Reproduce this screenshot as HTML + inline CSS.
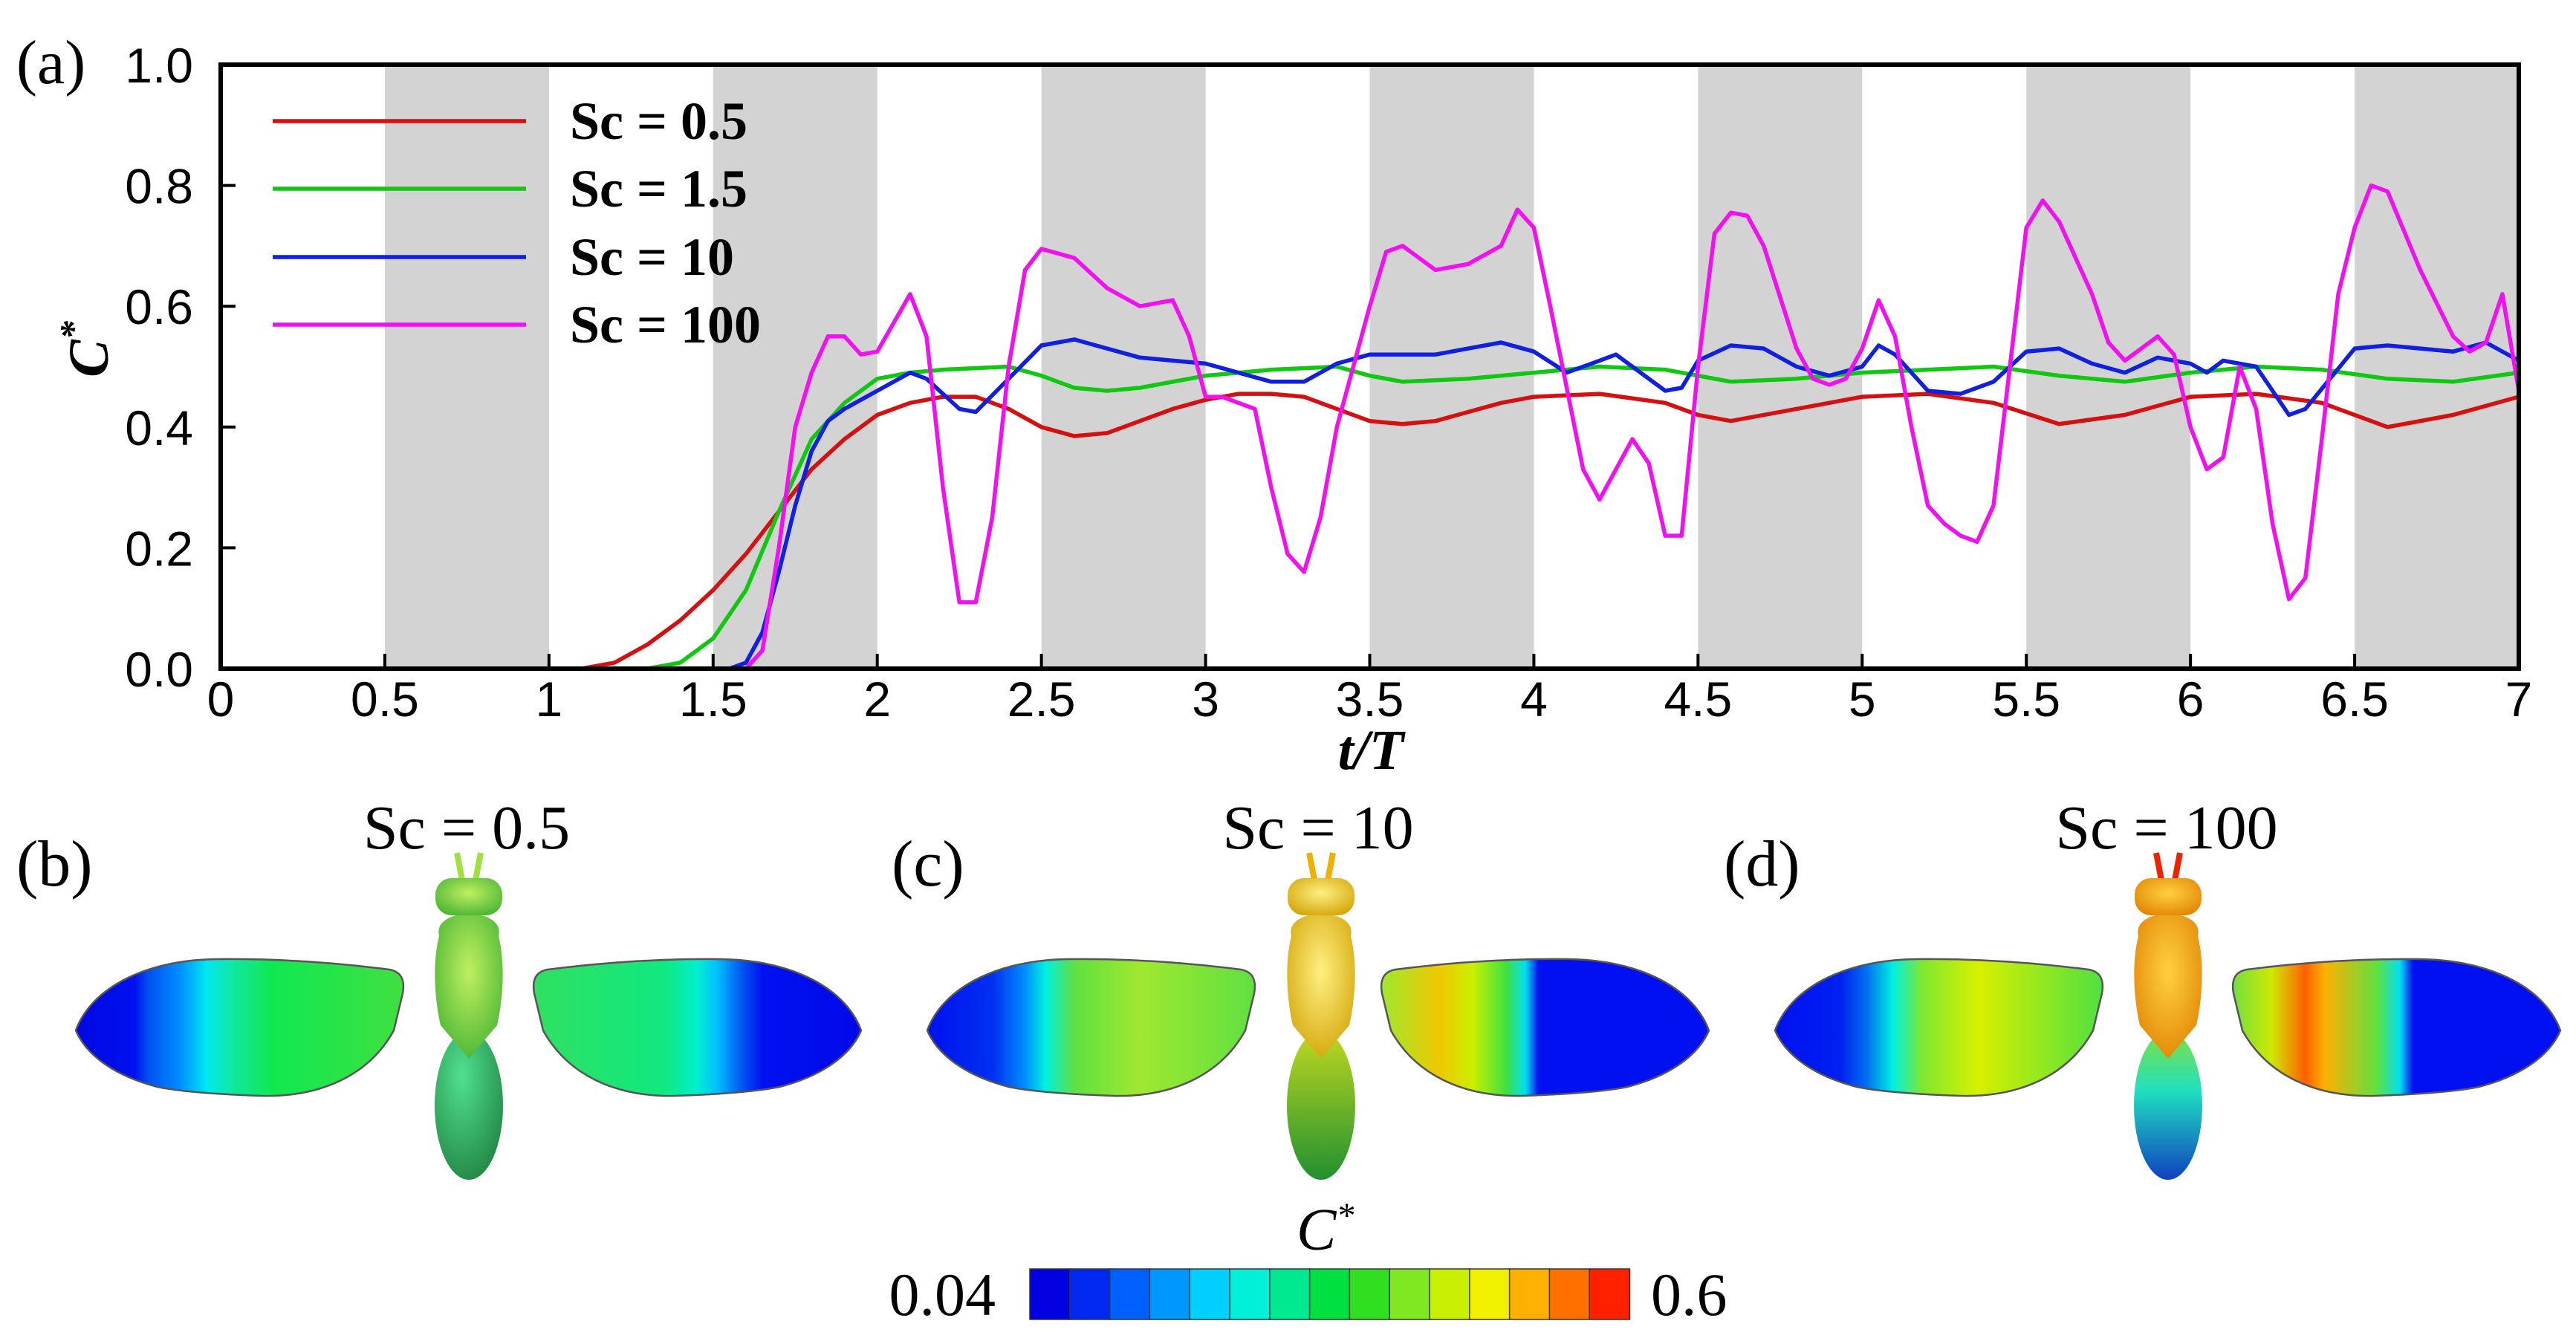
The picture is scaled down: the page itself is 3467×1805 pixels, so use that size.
<!DOCTYPE html>
<html><head><meta charset="utf-8">
<style>
html,body{margin:0;padding:0;background:#fff;}
svg{display:block;}
</style></head>
<body>
<svg id="fig" width="3467" height="1805" viewBox="0 0 3467 1805" xmlns="http://www.w3.org/2000/svg">
<defs>
 <linearGradient id="gWb" x1="0" y1="0" x2="1" y2="0">
  <stop offset="0" stop-color="#0008e0"/><stop offset="0.18" stop-color="#0010f0"/>
  <stop offset="0.22" stop-color="#0050f0"/><stop offset="0.32" stop-color="#0090ff"/>
  <stop offset="0.4" stop-color="#00e8f0"/><stop offset="0.48" stop-color="#10e8a0"/>
  <stop offset="0.6" stop-color="#10e850"/><stop offset="1" stop-color="#40e040"/>
 </linearGradient>
 <linearGradient id="gWbR" x1="0" y1="0" x2="1" y2="0">
  <stop offset="0" stop-color="#0008e8"/><stop offset="0.3" stop-color="#0010f0"/>
  <stop offset="0.36" stop-color="#0050f0"/><stop offset="0.44" stop-color="#00c0ff"/>
  <stop offset="0.5" stop-color="#00f0d0"/><stop offset="0.6" stop-color="#10e880"/>
  <stop offset="1" stop-color="#30e060"/>
 </linearGradient>
 <linearGradient id="gWc" x1="0" y1="0" x2="1" y2="0">
  <stop offset="0" stop-color="#0010f0"/><stop offset="0.2" stop-color="#0030f0"/>
  <stop offset="0.3" stop-color="#0090ff"/><stop offset="0.36" stop-color="#00f0e0"/>
  <stop offset="0.45" stop-color="#60e040"/><stop offset="0.65" stop-color="#a0e830"/>
  <stop offset="1" stop-color="#60e040"/>
 </linearGradient>
 <linearGradient id="gWcR" x1="0" y1="0" x2="1" y2="0">
  <stop offset="0" stop-color="#0010f0"/><stop offset="0.52" stop-color="#0010f0"/>
  <stop offset="0.56" stop-color="#00e0f0"/><stop offset="0.62" stop-color="#40e040"/>
  <stop offset="0.72" stop-color="#c8f000"/><stop offset="0.82" stop-color="#f0c800"/>
  <stop offset="1" stop-color="#a0e830"/>
 </linearGradient>
 <linearGradient id="gWd" x1="0" y1="0" x2="1" y2="0">
  <stop offset="0" stop-color="#0010f0"/><stop offset="0.2" stop-color="#0020f0"/>
  <stop offset="0.28" stop-color="#0070f0"/><stop offset="0.36" stop-color="#00f0e0"/>
  <stop offset="0.45" stop-color="#80e830"/><stop offset="0.62" stop-color="#d8f000"/>
  <stop offset="1" stop-color="#50e040"/>
 </linearGradient>
 <linearGradient id="gWdR" x1="0" y1="0" x2="1" y2="0">
  <stop offset="0" stop-color="#0010f0"/><stop offset="0.45" stop-color="#0010f0"/>
  <stop offset="0.49" stop-color="#00e0f0"/><stop offset="0.56" stop-color="#60e040"/>
  <stop offset="0.72" stop-color="#ffb000"/><stop offset="0.78" stop-color="#ff6000"/>
  <stop offset="0.88" stop-color="#d0e800"/><stop offset="1" stop-color="#70e040"/>
 </linearGradient>
 <radialGradient id="bodyB" cx="0.5" cy="0.4" r="0.7"><stop offset="0" stop-color="#c0f060"/><stop offset="1" stop-color="#40b030"/></radialGradient>
 <radialGradient id="bodyBab" cx="0.4" cy="0.3" r="0.8"><stop offset="0" stop-color="#50e090"/><stop offset="1" stop-color="#208040"/></radialGradient>
 <radialGradient id="bodyC" cx="0.5" cy="0.4" r="0.7"><stop offset="0" stop-color="#fff080"/><stop offset="1" stop-color="#d0a000"/></radialGradient>
 <linearGradient id="bodyCab" x1="0" y1="0" x2="0" y2="1"><stop offset="0" stop-color="#c0d820"/><stop offset="1" stop-color="#209030"/></linearGradient>
 <radialGradient id="bodyD" cx="0.5" cy="0.4" r="0.7"><stop offset="0" stop-color="#ffd040"/><stop offset="1" stop-color="#e08000"/></radialGradient>
 <linearGradient id="bodyDab" x1="0" y1="0" x2="0" y2="1"><stop offset="0" stop-color="#80e040"/><stop offset="0.4" stop-color="#20e0c0"/><stop offset="1" stop-color="#1040c0"/></linearGradient>
</defs>
<g id="chart"></g>
<g id="insects"></g>
</svg>
<script>
// ---------- data ----------
const xTicks = [0,0.5,1,1.5,2,2.5,3,3.5,4,4.5,5,5.5,6,6.5,7];
const xTickLabels = ["0","0.5","1","1.5","2","2.5","3","3.5","4","4.5","5","5.5","6","6.5","7"];
const yTicks = [0,0.2,0.4,0.6,0.8,1.0];
const yTickLabels = ["0.0","0.2","0.4","0.6","0.8","1.0"];
const shadedStarts = [0.5,1.5,2.5,3.5,4.5,5.5,6.5];
const seriesNames = ["Sc = 0.5","Sc = 1.5","Sc = 10","Sc = 100"];
const seriesColors = ["#d41010","#10c810","#1020e0","#f010f0"];

const tRed = [1.1,1.2,1.3,1.4,1.5,1.6,1.7,1.8,1.9,2.0,2.1,2.2,2.3,2.4,2.5,2.6,2.7,2.8,2.9,3.0,3.1,3.2,3.3,3.4,3.5,3.6,3.7,3.8,3.9,4.0,4.2,4.4,4.5,4.6,4.8,5.0,5.2,5.4,5.6,5.8,6.0,6.2,6.4,6.6,6.8,7.0];
const cRed = [0,0.01,0.04,0.08,0.13,0.19,0.26,0.33,0.38,0.42,0.44,0.45,0.45,0.43,0.40,0.385,0.39,0.41,0.43,0.445,0.455,0.455,0.45,0.43,0.41,0.405,0.41,0.425,0.44,0.45,0.455,0.44,0.42,0.41,0.43,0.45,0.455,0.44,0.405,0.42,0.45,0.455,0.44,0.40,0.42,0.45];

const tGreen = [1.3,1.4,1.5,1.6,1.7,1.8,1.9,2.0,2.1,2.2,2.4,2.5,2.6,2.7,2.8,3.0,3.2,3.4,3.5,3.6,3.8,4.0,4.2,4.4,4.6,4.8,5.0,5.2,5.4,5.6,5.8,6.0,6.2,6.4,6.6,6.8,7.0];
const cGreen = [0,0.01,0.05,0.13,0.26,0.38,0.44,0.48,0.49,0.495,0.50,0.485,0.465,0.46,0.465,0.485,0.495,0.50,0.485,0.475,0.48,0.49,0.50,0.495,0.475,0.48,0.49,0.495,0.50,0.485,0.475,0.49,0.50,0.495,0.48,0.475,0.49];

const tBlue = [1.55,1.6,1.65,1.7,1.75,1.8,1.85,1.9,2.0,2.1,2.15,2.25,2.3,2.4,2.5,2.6,2.7,2.8,2.9,3.0,3.1,3.2,3.3,3.4,3.5,3.6,3.7,3.8,3.9,4.0,4.1,4.2,4.25,4.3,4.4,4.45,4.5,4.6,4.7,4.8,4.9,5.0,5.05,5.1,5.2,5.3,5.4,5.5,5.6,5.7,5.8,5.9,6.0,6.05,6.1,6.2,6.3,6.35,6.5,6.6,6.8,6.9,7.0];
const cBlue = [0,0.01,0.06,0.16,0.27,0.36,0.41,0.43,0.46,0.49,0.48,0.43,0.425,0.48,0.535,0.545,0.53,0.515,0.51,0.505,0.49,0.475,0.475,0.505,0.52,0.52,0.52,0.53,0.54,0.525,0.49,0.51,0.52,0.50,0.46,0.465,0.51,0.535,0.53,0.50,0.485,0.50,0.535,0.52,0.46,0.455,0.475,0.525,0.53,0.505,0.49,0.515,0.505,0.49,0.51,0.50,0.42,0.43,0.53,0.535,0.525,0.54,0.51];

const tMag = [1.6,1.65,1.7,1.75,1.8,1.85,1.9,1.95,2.0,2.1,2.15,2.2,2.25,2.3,2.35,2.4,2.45,2.5,2.6,2.7,2.8,2.9,2.95,3.0,3.05,3.15,3.2,3.25,3.3,3.35,3.4,3.5,3.55,3.6,3.7,3.8,3.9,3.95,4.0,4.05,4.15,4.2,4.3,4.35,4.4,4.45,4.5,4.55,4.6,4.65,4.7,4.8,4.85,4.9,4.95,5.0,5.05,5.1,5.15,5.2,5.25,5.3,5.35,5.4,5.45,5.5,5.55,5.6,5.7,5.75,5.8,5.85,5.9,5.95,6.0,6.05,6.1,6.15,6.2,6.25,6.3,6.35,6.4,6.45,6.5,6.55,6.6,6.7,6.8,6.85,6.9,6.95,7.0];
const cMag = [0,0.03,0.2,0.4,0.49,0.55,0.55,0.52,0.525,0.62,0.55,0.3,0.11,0.11,0.25,0.50,0.66,0.695,0.68,0.63,0.60,0.61,0.55,0.45,0.45,0.43,0.30,0.19,0.16,0.25,0.40,0.60,0.69,0.70,0.66,0.67,0.70,0.76,0.73,0.60,0.33,0.28,0.38,0.34,0.22,0.22,0.50,0.72,0.755,0.75,0.70,0.53,0.48,0.47,0.48,0.53,0.61,0.55,0.40,0.27,0.24,0.22,0.21,0.27,0.50,0.73,0.775,0.74,0.62,0.54,0.51,0.53,0.55,0.52,0.40,0.33,0.35,0.50,0.43,0.24,0.115,0.15,0.38,0.62,0.73,0.80,0.79,0.66,0.55,0.525,0.54,0.62,0.46];

const colorbarColors = ["#0000e0","#0028f0","#0060ff","#0098ff","#00d0ff","#00f0d8","#00e890","#00e040","#30e020","#80e820","#c8f000","#f0f000","#ffb000","#ff7000","#ff2000"];
const colorbarLabels = ["0.04","0.6"];

// ---------- helpers ----------
const NS = "http://www.w3.org/2000/svg";
function mk(tag, attrs, parent, text){
  const e = document.createElementNS(NS, tag);
  for (const k in attrs) e.setAttribute(k, attrs[k]);
  if (text !== undefined) e.textContent = text;
  parent.appendChild(e);
  return e;
}
const X0 = 297, X1 = 3390, Y0 = 900, Y1 = 87;
const xScale = t => X0 + (t/7)*(X1-X0);
const yScale = c => Y0 - c*(Y0-Y1);

const chart = document.getElementById("chart");

shadedStarts.forEach(s => {
  const r = mk("rect", {x:xScale(s), y:Y1, width:xScale(s+0.5)-xScale(s), height:Y0-Y1, fill:"#d3d3d3"}, chart);
  
  
});

const allT = [tRed,tGreen,tBlue,tMag], allC = [cRed,cGreen,cBlue,cMag];
allT.forEach((ts,i) => {
  const d = ts.map((t,j) => (j?"L":"M")+xScale(t).toFixed(1)+","+yScale(allC[i][j]).toFixed(1)).join(" ");
  const p = mk("path", {d:d, fill:"none", stroke:seriesColors[i], "stroke-width":5.5, "stroke-linejoin":"round"}, chart);
  
  
});

const frame = mk("rect", {x:X0, y:Y1, width:X1-X0, height:Y0-Y1, fill:"none", stroke:"#000", "stroke-width":6}, chart);



xTicks.forEach((t,i) => {
  const x = xScale(t);
  const tk = mk("line", {x1:x, x2:x, y1:Y0, y2:Y0-20, stroke:"#000", "stroke-width":4}, chart);
  
  
  const lb = mk("text", {x:x, y:964, "text-anchor":"middle", "font-family":"Liberation Sans, sans-serif", "font-size":66, fill:"#000"}, chart, xTickLabels[i]);
  
  
});
yTicks.forEach((v,i) => {
  const y = yScale(v);
  const tk = mk("line", {x1:X0, x2:X0+20, y1:y, y2:y, stroke:"#000", "stroke-width":4}, chart);
  
  
  const lb = mk("text", {x:260, y:y+24, "text-anchor":"end", "font-family":"Liberation Sans, sans-serif", "font-size":66, fill:"#000"}, chart, yTickLabels[i]);
  
  
});

const legY = [163,254,346,437];
seriesNames.forEach((n,i) => {
  const ln = mk("line", {x1:367, x2:708, y1:legY[i], y2:legY[i], stroke:seriesColors[i], "stroke-width":5.5}, chart);
  
  
  const tx = mk("text", {x:767, y:legY[i]+24, "font-family":"Liberation Serif, serif", "font-weight":"bold", "font-size":72, fill:"#000"}, chart, n);
  
  
});

const pa = mk("text", {x:22, y:112, "font-family":"Liberation Serif, serif", "font-size":84, fill:"#000"}, chart, "(a)");


const yt = mk("text", {x:0, y:0, transform:"translate(145,470) rotate(-90)", "text-anchor":"middle", "font-family":"Liberation Serif, serif", "font-weight":"bold", "font-style":"italic", "font-size":76, fill:"#000"}, chart);


yt.innerHTML = 'C<tspan dy="-30" font-size="50">*</tspan>';
const xt = mk("text", {x:1845, y:1035, "text-anchor":"middle", "font-family":"Liberation Serif, serif", "font-weight":"bold", "font-style":"italic", "font-size":76, fill:"#000"}, chart, "t/T");



// ---------- insect panels ----------
const ins = document.getElementById("insects");
const wingPath = "M 0,100 C 20,45 90,5 190,4 C 280,3 360,10 422,18 Q 445,22 440,50 L 428,100 C 395,160 330,190 250,188 C 190,186 140,182 110,176 C 55,162 15,135 0,100 Z";
const panels = [
  {lab:"(b)", labX:22, title:"Sc = 0.5", titleX:628, lw:[102,1287], rw:[717,1287], bx:631, gL:"gWb", gR:"gWbR", head:"url(#bodyB)", thor:"url(#bodyB)", ab:"url(#bodyBab)", eyes:"#a0e040"},
  {lab:"(c)", labX:1200, title:"Sc = 10", titleX:1774, lw:[1248,1287], rw:[1858,1287], bx:1778, gL:"gWc", gR:"gWcR", head:"url(#bodyC)", thor:"url(#bodyC)", ab:"url(#bodyCab)", eyes:"#f0b000"},
  {lab:"(d)", labX:2320, title:"Sc = 100", titleX:2916, lw:[2389,1287], rw:[3004,1287], bx:2918, gL:"gWd", gR:"gWdR", head:"url(#bodyD)", thor:"url(#bodyD)", ab:"url(#bodyDab)", eyes:"#f02000"}
];
panels.forEach(p => {
  const g = mk("g", {}, ins);
  
  
  const l = mk("text", {x:p.labX, y:1192, "font-family":"Liberation Serif, serif", "font-size":88, fill:"#000"}, g, p.lab);
  
  
  const t = mk("text", {x:p.titleX, y:1142, "text-anchor":"middle", "font-family":"Liberation Serif, serif", "font-size":84, fill:"#000"}, g, p.title);
  
  
  const wl = mk("path", {d:wingPath, transform:`translate(${p.lw[0]},${p.lw[1]})`, fill:`url(#${p.gL})`, stroke:"#555", "stroke-width":2.5}, g);
  
  
  const wr = mk("path", {d:wingPath, transform:`translate(${p.rw[0]+442},${p.rw[1]}) scale(-1,1)`, fill:`url(#${p.gR})`, stroke:"#555", "stroke-width":2.5}, g);
  
  
  const b = p.bx;
  mk("path", {d:`M ${b-8},1190 L ${b-16},1148 M ${b+8},1190 L ${b+16},1148`, stroke:p.eyes, "stroke-width":8, fill:"none"}, g);
  const ab = mk("ellipse", {cx:b, cy:1488, rx:46, ry:100, fill:p.ab}, g);
  
  
  const th = mk("path", {d:`M ${b-40},1260 C ${b-50},1220 ${b+50},1220 ${b+40},1260 C ${b+50},1300 ${b+45},1350 ${b+38},1380 L ${b},1425 L ${b-38},1380 C ${b-45},1350 ${b-50},1300 ${b-40},1260 Z`, fill:p.thor}, g);
  
  
  const hd = mk("rect", {x:b-45, y:1182, width:90, height:50, rx:22, fill:p.head}, g);
  
  
});

const cbX0 = 1386, cbX1 = 2193, cbY = 1708, cbH = 68;
const bw = (cbX1-cbX0)/colorbarColors.length;
colorbarColors.forEach((c,i) => {
  const r = mk("rect", {x:cbX0+i*bw, y:cbY, width:bw+0.5, height:cbH, fill:c, stroke:"#333", "stroke-width":1.5}, ins);
  
  
});
const cl0 = mk("text", {x:1340, y:1770, "text-anchor":"end", "font-family":"Liberation Serif, serif", "font-size":82, fill:"#000"}, ins, colorbarLabels[0]);


const cl1 = mk("text", {x:2222, y:1770, "font-family":"Liberation Serif, serif", "font-size":82, fill:"#000"}, ins, colorbarLabels[1]);


const ct = mk("text", {x:1745, y:1682, "font-family":"Liberation Serif, serif", "font-style":"italic", "font-size":80, fill:"#000"}, ins);


ct.innerHTML = 'C<tspan dy="-30" font-size="48">*</tspan>';
</script>
</body></html>
